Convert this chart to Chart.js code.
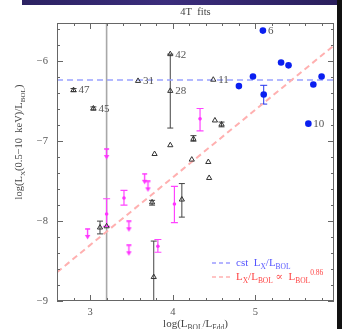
<!DOCTYPE html>
<html>
<head>
<meta charset="utf-8">
<script src="https://cdn.jsdelivr.net/npm/chart.js@4"></script>
<style>
  body { margin: 0; background: #fff; }
  #wrap { position: relative; width: 342px; height: 329px; overflow: hidden; }
  #band { position: absolute; left: 22px; top: 0; width: 320px; height: 5px;
          background: linear-gradient(90deg, #2c2262, #3b2d7c 45%, #2a1f5c); }
  #edge { position: absolute; right: 0; top: 0; width: 5px; height: 329px; background: #111; }
</style>
</head>
<body>
<div id="wrap">
  <canvas id="c" width="342" height="329"></canvas>
  <div id="band"></div>
  <div id="edge"></div>
</div>
<script>
// blue filled circles
const blueX = [5.09, 5.31, 5.40, 4.97, 4.80, 5.10, 5.70, 5.80, 5.64];
const blueY = [-5.615, -6.015, -6.05, -6.19, -6.31, -6.415, -6.29, -6.19, -6.78];
const blueLo = [null, null, null, null, null, -6.535, null, null, null];
const blueHi = [null, null, null, null, null, -6.30, null, null, null];
const blueNames = ["6", "", "", "", "", "", "", "", "10"];

// open triangles
const triX = [2.80, 3.04, 3.58, 3.97, 3.97, 4.49, 4.51, 4.59, 3.97, 4.25, 3.78, 4.23, 4.43, 4.44, 3.75, 4.11, 3.12, 3.77];
const triY = [-6.36, -6.59, -6.245, -5.91, -6.37, -6.23, -6.74, -6.79, -7.05, -6.97, -7.16, -7.23, -7.26, -7.46, -7.765, -7.73, -8.08, -8.70];
const triLo = [-6.38, -6.61, null, null, -6.835, null, null, -6.82, null, -7.00, null, null, null, null, -7.80, -7.95, -8.16, -9.0];
const triHi = [-6.34, -6.57, null, null, -5.91, null, null, -6.76, null, -6.93, null, null, null, null, -7.74, -7.53, -8.00, -8.25];
const triNames = ["47", "45", "31", "42", "28", "11", "", "", "", "", "", "", "", "", "", "", "", ""];

// triangle with the very wide (grey) error bar
const wideX = [3.20];
const wideY = [-8.065];
const wideLo = [-9.0];
const wideHi = [-5.52];

// magenta points with error bars
const magX = [4.33, 3.20, 3.41, 4.02, 3.82];
const magY = [-6.72, -7.91, -7.71, -7.785, -8.315];
const magLo = [-6.87, -8.065, -7.80, -8.02, -8.39];
const magHi = [-6.59, -7.72, -7.615, -7.565, -8.23];

// magenta upper limits
const limX = [3.20, 3.66, 3.70, 2.97, 3.47, 3.47];
const limY = [-7.16, -7.47, -7.565, -8.16, -8.065, -8.365];

// constant ratio and power-law fit
const cstX = [2.6, 5.95];
const cstY = [-6.235, -6.235];
const fitX = [2.6, 5.95];
const fitY = [-8.64, -5.80];

const xTicks = [3, 4, 5];
const yTicks = [-9, -8, -7, -6];

const serif = '"Liberation Serif", "DejaVu Serif", serif';
const pts = (xs, ys) => xs.map((v, i) => ({ x: v, y: ys[i] }));

function downArrow(color) {
  const c = document.createElement('canvas');
  c.width = 7; c.height = 12;
  const g = c.getContext('2d');
  g.strokeStyle = color; g.fillStyle = color; g.lineWidth = 1.3;
  g.beginPath();
  g.moveTo(1, 1); g.lineTo(6, 1);
  g.moveTo(3.5, 1); g.lineTo(3.5, 8);
  g.stroke();
  g.beginPath();
  g.moveTo(0.8, 7); g.lineTo(6.2, 7); g.lineTo(3.5, 11.5); g.closePath();
  g.fill();
  return c;
}

// text with sub/superscripts: parts = [[text, shift]], shift 1 = sub, -1 = sup
function rich(ctx, parts, x, y, size, align) {
  const sz = s => (s ? size * 0.68 : size);
  let w = 0;
  parts.forEach(([t, s]) => { ctx.font = sz(s) + 'px ' + serif; w += ctx.measureText(t).width; });
  let cx = align === 'center' ? x - w / 2 : x;
  parts.forEach(([t, s]) => {
    ctx.font = sz(s) + 'px ' + serif;
    ctx.fillText(t, cx, y + (s > 0 ? size * 0.3 : s < 0 ? -size * 0.45 : 0));
    cx += ctx.measureText(t).width;
  });
}

const errorBars = {
  id: 'errorBars',
  beforeDatasetsDraw(chart) {
    const { ctx, chartArea: a, scales: { x, y } } = chart;
    ctx.save();
    ctx.beginPath(); ctx.rect(a.left, a.top, a.width, a.height); ctx.clip();
    chart.data.datasets.forEach(ds => {
      if (!ds.errLo) return;
      ctx.strokeStyle = ds.errColor;
      ctx.lineWidth = ds.errWidth || 1;
      ds.data.forEach((p, i) => {
        if (ds.errLo[i] == null) return;
        const px = x.getPixelForValue(p.x);
        const y0 = y.getPixelForValue(ds.errLo[i]);
        const y1 = y.getPixelForValue(ds.errHi[i]);
        const c = ds.errCap;
        ctx.beginPath();
        ctx.moveTo(px, y0); ctx.lineTo(px, y1);
        ctx.moveTo(px - c, y0); ctx.lineTo(px + c, y0);
        ctx.moveTo(px - c, y1); ctx.lineTo(px + c, y1);
        ctx.stroke();
      });
    });
    ctx.restore();
  }
};

const decor = {
  id: 'decor',
  afterDatasetsDraw(chart) {
    const { ctx, chartArea: a, scales: { x, y } } = chart;
    ctx.save();

    // point names
    ctx.fillStyle = '#555';
    ctx.font = '11px ' + serif;
    ctx.textBaseline = 'middle';
    chart.data.datasets.forEach((ds, di) => {
      if (!ds.names) return;
      const meta = chart.getDatasetMeta(di);
      ds.names.forEach((n, i) => {
        if (n) ctx.fillText(n, meta.data[i].x + 5, meta.data[i].y + 0.5);
      });
    });

    // frame with inward ticks on all sides
    ctx.strokeStyle = '#666';
    ctx.lineWidth = 1;
    ctx.strokeRect(a.left + 0.5, a.top + 0.5, a.width - 1, a.height - 1);
    ctx.beginPath();
    for (let k = Math.ceil(x.min * 5); k <= Math.floor(x.max * 5); k++) {
      const px = Math.round(x.getPixelForValue(k / 5)) + 0.5;
      const len = k % 5 === 0 ? 6 : 3;
      ctx.moveTo(px, a.bottom); ctx.lineTo(px, a.bottom - len);
      ctx.moveTo(px, a.top); ctx.lineTo(px, a.top + len);
    }
    for (let k = Math.ceil(y.min * 5); k <= Math.floor(y.max * 5); k++) {
      const py = Math.round(y.getPixelForValue(k / 5)) + 0.5;
      const len = k % 5 === 0 ? 6 : 3;
      ctx.moveTo(a.left, py); ctx.lineTo(a.left + len, py);
      ctx.moveTo(a.right, py); ctx.lineTo(a.right - len, py);
    }
    ctx.stroke();

    // title and axis titles
    ctx.fillStyle = '#444';
    ctx.textBaseline = 'alphabetic';
    ctx.textAlign = 'left';
    rich(ctx, [['4T  fits', 0]], (a.left + a.right) / 2, 15, 10.5, 'center');
    rich(ctx, [['log(L', 0], ['BOL', 1], ['/L', 0], ['Edd', 1], [')', 0]], (a.left + a.right) / 2, 327, 11, 'center');
    ctx.save();
    ctx.translate(22, 142);
    ctx.rotate(-Math.PI / 2);
    rich(ctx, [['log(L', 0], ['X', 1], ['(0.5\u221210  keV)/L', 0], ['BOL', 1], [')', 0]], 0, 0, 10.5, 'center');
    ctx.restore();

    // legend
    ctx.lineWidth = 1.2;
    ctx.setLineDash([4, 3]);
    ctx.strokeStyle = '#6a6aff';
    ctx.beginPath(); ctx.moveTo(212, 263); ctx.lineTo(231, 263); ctx.stroke();
    ctx.strokeStyle = '#ff8a8a';
    ctx.beginPath(); ctx.moveTo(212, 277); ctx.lineTo(231, 277); ctx.stroke();
    ctx.setLineDash([]);
    ctx.fillStyle = '#5555ff';
    rich(ctx, [['cst  L', 0], ['X', 1], ['/L', 0], ['BOL', 1]], 236, 266, 11);
    ctx.fillStyle = '#ff4545';
    rich(ctx, [['L', 0], ['X', 1], ['/L', 0], ['BOL', 1], [' \u221d  L', 0], ['BOL', 1], ['0.86', -1]], 236, 280, 11);

    ctx.restore();
  }
};

new Chart(document.getElementById('c'), {
  type: 'scatter',
  data: {
    datasets: [
      {
        type: 'line', data: pts(cstX, cstY), order: 10,
        borderColor: '#9aa2ff', borderWidth: 1.5, borderDash: [6, 4],
        pointRadius: 0
      },
      {
        type: 'line', data: pts(fitX, fitY), order: 9,
        borderColor: '#ffb0b0', borderWidth: 2, borderDash: [6, 4],
        pointRadius: 0
      },
      {
        data: pts(wideX, wideY), order: 5,
        pointStyle: 'triangle', pointRadius: 3,
        backgroundColor: 'rgba(255,255,255,0)', borderColor: '#333', borderWidth: 1,
        errLo: wideLo, errHi: wideHi, errColor: '#a8a8a8', errWidth: 1.6, errCap: 0
      },
      {
        data: pts(triX, triY), order: 4,
        pointStyle: 'triangle', pointRadius: 3,
        backgroundColor: 'rgba(255,255,255,0)', borderColor: '#333', borderWidth: 1,
        errLo: triLo, errHi: triHi, errColor: '#444', errWidth: 1, errCap: 3,
        names: triNames
      },
      {
        data: pts(magX, magY), order: 3,
        pointStyle: 'circle', pointRadius: 1.8,
        backgroundColor: '#ff33ff', borderColor: '#ff33ff', borderWidth: 0,
        errLo: magLo, errHi: magHi, errColor: '#ff44ff', errWidth: 1.2, errCap: 3.5
      },
      {
        data: pts(limX, limY), order: 2,
        pointStyle: downArrow('#ff33ff'), pointRadius: 5
      },
      {
        data: pts(blueX, blueY), order: 1,
        pointStyle: 'circle', pointRadius: 3.3,
        backgroundColor: '#0a1ff0', borderColor: '#0a1ff0', borderWidth: 0,
        errLo: blueLo, errHi: blueHi, errColor: '#2233ee', errWidth: 1, errCap: 3.5,
        names: blueNames
      }
    ]
  },
  options: {
    responsive: false,
    animation: false,
    layout: { padding: { top: 23, right: 8, left: 0, bottom: 0 } },
    plugins: { legend: { display: false }, tooltip: { enabled: false }, title: { display: false } },
    scales: {
      x: {
        type: 'linear', min: 2.6, max: 5.95,
        afterBuildTicks: s => { s.ticks = xTicks.map(v => ({ value: v })); },
        afterFit: s => { s.height = 28; },
        grid: { display: false, drawTicks: false }, border: { display: false },
        ticks: { padding: 5, color: '#555', font: { family: serif, size: 10.5 }, maxRotation: 0 }
      },
      y: {
        type: 'linear', min: -9, max: -5.52,
        afterBuildTicks: s => { s.ticks = yTicks.map(v => ({ value: v })); },
        afterFit: s => { s.width = 57; },
        grid: { display: false, drawTicks: false }, border: { display: false },
        ticks: {
          padding: 9, color: '#555', font: { family: serif, size: 10.5 },
          callback: v => '\u2212' + Math.abs(v)
        }
      }
    }
  },
  plugins: [errorBars, decor]
});
</script>
</body>
</html>
